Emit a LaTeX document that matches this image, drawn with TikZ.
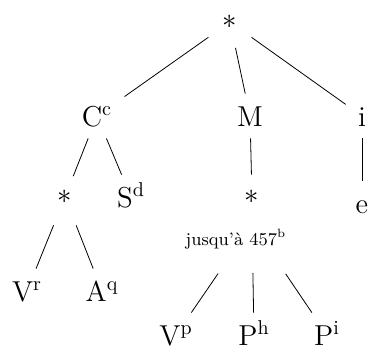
\documentclass[tikz,border=0pt]{standalone}
\begin{document}
\begin{tikzpicture}[x=0.5pt, y=-0.5pt, every node/.style={font=\Large},
  leaf/.style={anchor=base,inner sep=6pt,text height=10pt,text depth=0pt},
  star/.style={circle,inner sep=0pt,minimum size=22pt},
  fork/.style={shorten <=30pt}]
\clip (0,0) rectangle (368,345);
\node[star,minimum size=26pt] (root) at (230,22) {$\ast$};
\node[leaf] (cc) at (97,126) {C\textsuperscript{c}};
\node[leaf] (m) at (250,126) {M};
\node[leaf] (ii) at (362,126) {i};
\node[star] (lst) at (65,197) {$\ast$};
\node[leaf] (sd) at (131,207) {S\textsuperscript{d}};
\node[star] (mst) at (252,197) {$\ast$};
\node[leaf] (e) at (362,213) {e};
\node[anchor=base,font=\small] (jq) at (236,245) {jusqu'à 457\textsuperscript{b}};
\coordinate (mfork) at (252,224);
\node[leaf] (vr) at (27,301) {V\textsuperscript{r}};
\node[leaf] (aq) at (102,301) {A\textsuperscript{q}};
\node[leaf] (vp) at (176,345) {V\textsuperscript{p}};
\node[leaf] (ph) at (254,345) {P\textsuperscript{h}};
\node[leaf] (pi) at (327,345) {P\textsuperscript{i}};
\draw (root) -- (cc);
\draw (root) -- (m);
\draw (root) -- (ii);
\draw (cc) -- (lst);
\draw (cc) -- (sd);
\draw (m) -- (mst);
\draw (ii) -- (e);
\draw[shorten <=4pt] (lst) -- (vr);
\draw[shorten <=4pt] (lst) -- (aq);
% the three below hang from the label under the star
\draw[fork] (mfork) -- (vp);
\draw[fork,shorten <=24.5pt] (mfork) -- (ph);
\draw[fork] (mfork) -- (pi);
\end{tikzpicture}
\end{document}
